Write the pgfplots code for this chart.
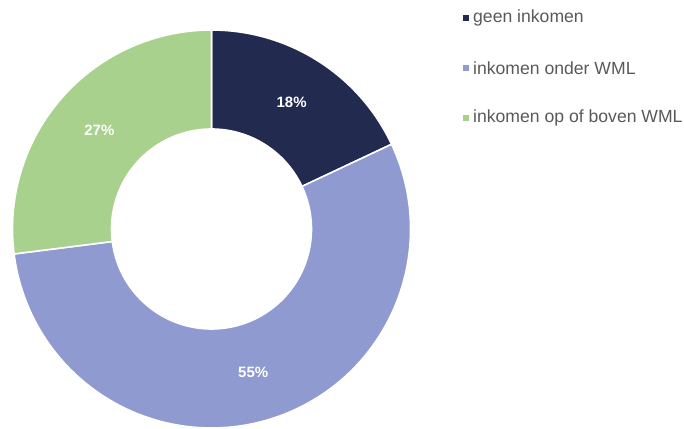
\documentclass[border=0pt]{standalone}
\usepackage{fontspec}
\setmainfont{Liberation Sans}
\usepackage{pgfplots}
\usepackage{pgfplotstable}
\pgfplotsset{compat=1.18}
\definecolor{c1}{HTML}{222A50}
\definecolor{c2}{HTML}{8F9AD1}
\definecolor{c3}{HTML}{A9D18E}
\definecolor{txt}{HTML}{595959}

% share (%) per group, drawn clockwise from 12 o'clock
\pgfplotstableread[col sep=comma]{
share,color,label
18,c1,geen inkomen
55,c2,inkomen onder WML
27,c3,inkomen op of boven WML
}\shares

\begin{document}
\begin{tikzpicture}
\begin{axis}[
  x=1pt, y=1pt,
  xmin=0, xmax=684, ymin=0, ymax=428,
  hide axis, clip=false,
]
\path[use as bounding box] (axis cs:0,0) rectangle (axis cs:684,428);
\pgfplotstablegetrowsof{\shares}
\pgfmathtruncatemacro\nrows{\pgfplotsretval-1}
\def\cum{0}
\def\cx{211.5}\def\cy{199}\def\ro{199}\def\ri{100}
\pgfplotsforeachungrouped \i in {0,...,\nrows}{
  \pgfplotstablegetelem{\i}{share}\of\shares \let\val\pgfplotsretval
  \pgfplotstablegetelem{\i}{color}\of\shares \let\col\pgfplotsretval
  \pgfplotstablegetelem{\i}{label}\of\shares \let\lab\pgfplotsretval
  \pgfmathsetmacro\a{90-3.6*\cum}
  \pgfmathsetmacro\b{90-3.6*(\cum+\val)}
  \pgfmathsetmacro\m{(\a+\b)/2}
  \pgfmathsetmacro\xa{\cx+\ro*cos(\a)}
  \pgfmathsetmacro\ya{\cy+\ro*sin(\a)}
  \pgfmathsetmacro\xb{\cx+\ri*cos(\b)}
  \pgfmathsetmacro\yb{\cy+\ri*sin(\b)}
  \pgfmathsetmacro\xm{\cx+149.5*cos(\m)}
  \pgfmathsetmacro\ym{\cy+149.5*sin(\m)}
  \pgfmathsetmacro\ly{410-50*\i}
  \edef\tmp{%
    \noexpand\fill[\col, draw=white, line width=1.6pt]
      (axis cs:\xa,\ya) arc[start angle=\a, end angle=\b, radius=\ro pt]
      -- (axis cs:\xb,\yb) arc[start angle=\b, end angle=\a, radius=\ri pt] -- cycle;
    \noexpand\node[text=white, font=\noexpand\bfseries\noexpand\fontsize{15}{18}\noexpand\selectfont]
      at (axis cs:\xm,\ym) {\val\noexpand\%};
    \noexpand\fill[\col] (axis cs:462.5,\ly-3) rectangle (axis cs:468.5,\ly+3);
    \noexpand\node[anchor=west, inner sep=0pt, text=txt,
      font=\noexpand\fontsize{17.6}{21}\noexpand\selectfont]
      at (axis cs:473,\ly) {\lab};
  }
  \tmp
  \pgfmathsetmacro\cum{\cum+\val}
}
\end{axis}
\end{tikzpicture}
\end{document}
